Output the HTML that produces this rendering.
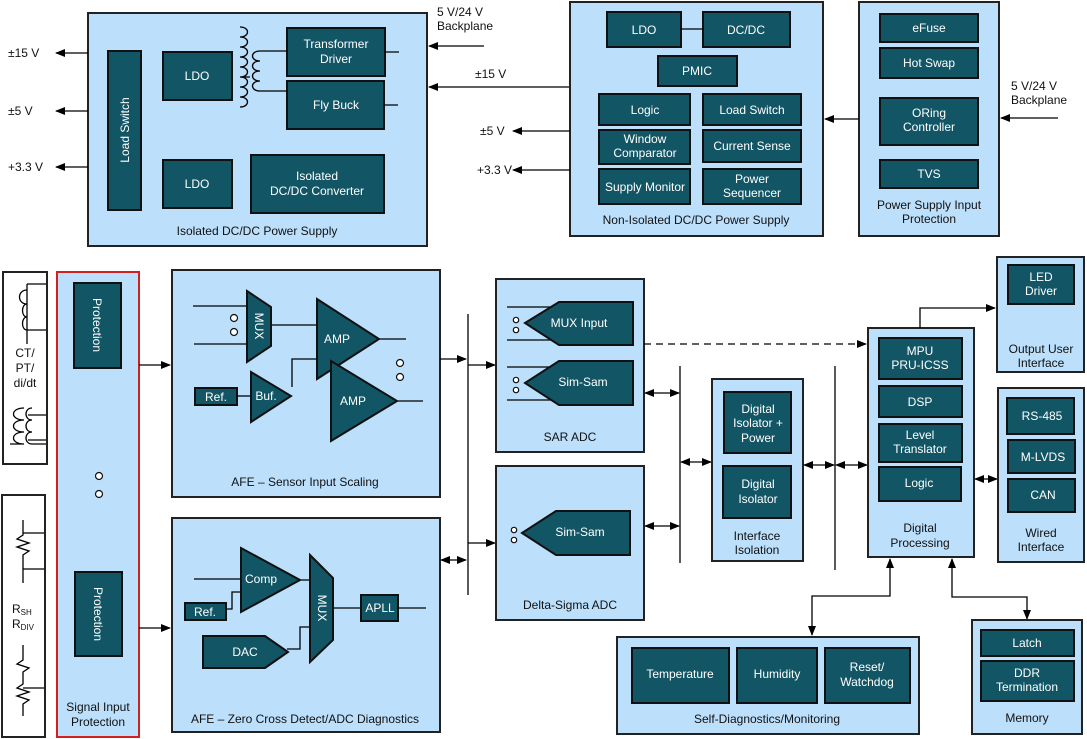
<!DOCTYPE html>
<html><head><meta charset="utf-8"><style>
body{margin:0;background:#fff}
svg{display:block;font-family:"Liberation Sans",sans-serif}
.L{fill:#bcdffb;stroke:#222;stroke-width:2}
.D{fill:#125565;stroke:#111;stroke-width:2}
.w{fill:#fff;font-size:12px;text-anchor:middle}
.k{fill:#111;font-size:12px;text-anchor:middle}
.kl{fill:#111;font-size:12px}
.ln{stroke:#000;stroke-width:1.3;fill:none}
.c{fill:#fff;stroke:#111;stroke-width:1.2}
</style></head><body>
<svg width="1087" height="739" viewBox="0 0 1087 739">
<defs>
<marker id="a" markerWidth="10" markerHeight="8" refX="9" refY="4" orient="auto" markerUnits="userSpaceOnUse"><path d="M0,0L10,4L0,8z" fill="#000"/></marker>
<marker id="b" markerWidth="10" markerHeight="8" refX="1" refY="4" orient="auto" markerUnits="userSpaceOnUse"><path d="M10,0L0,4L10,8z" fill="#000"/></marker>
</defs>

<!-- Isolated DC/DC -->
<rect class="L" x="88" y="13" width="339" height="233"/>
<rect class="D" x="108" y="51" width="33" height="159"/>
<text class="w" transform="translate(129,130) rotate(-90)">Load Switch</text>
<rect class="D" x="163" y="52" width="69" height="48"/><text class="w" x="197" y="80">LDO</text>
<rect class="D" x="163" y="160" width="69" height="48"/><text class="w" x="197" y="188">LDO</text>
<rect class="D" x="287" y="28" width="98" height="48"/><text class="w" x="336" y="48">Transformer</text><text class="w" x="336" y="63">Driver</text>
<rect class="D" x="287" y="81" width="97" height="48"/><text class="w" x="336" y="109">Fly Buck</text>
<rect class="D" x="251" y="155" width="133" height="58"/><text class="w" x="317" y="180">Isolated</text><text class="w" x="317" y="195">DC/DC Converter</text>
<path class="ln" d="M240,27c10,0 10,10 0,10c10,0 10,10 0,10c10,0 10,10 0,10c10,0 10,10 0,10c10,0 10,10 0,10c10,0 10,10 0,10c10,0 10,10 0,10c10,0 10,10 0,10M287,51h-27c-10,0 -10,10 0,10c-10,0 -10,10 0,10c-10,0 -10,10 0,10c-10,0 -10,10 0,10h27M242,77h8M385,52h14M384,105h14"/>
<text class="k" x="257" y="235">Isolated DC/DC Power Supply</text>
<line class="ln" x1="88" y1="53" x2="56" y2="53" marker-end="url(#a)"/><text class="kl" x="8" y="57">±15 V</text>
<line class="ln" x1="88" y1="111" x2="56" y2="111" marker-end="url(#a)"/><text class="kl" x="8" y="115">±5 V</text>
<line class="ln" x1="88" y1="167" x2="56" y2="167" marker-end="url(#a)"/><text class="kl" x="8" y="171">+3.3 V</text>
<text class="kl" x="437" y="16">5 V/24 V</text><text class="kl" x="437" y="30">Backplane</text>
<line class="ln" x1="484" y1="46" x2="429" y2="46" marker-end="url(#a)"/>
<line class="ln" x1="570" y1="87" x2="429" y2="87" marker-end="url(#a)"/><text class="kl" x="475" y="78">±15 V</text>

<!-- Non-isolated -->
<rect class="L" x="570" y="2" width="253" height="234"/>
<rect class="D" x="607" y="12" width="74" height="35"/><text class="w" x="644" y="34">LDO</text>
<rect class="D" x="703" y="12" width="87" height="35"/><text class="w" x="746" y="34">DC/DC</text>
<line class="ln" x1="681" y1="29" x2="703" y2="29"/>
<rect class="D" x="658" y="56" width="79" height="30"/><text class="w" x="697" y="75">PMIC</text>
<rect class="D" x="599" y="94" width="91" height="31"/><text class="w" x="645" y="114">Logic</text>
<rect class="D" x="703" y="94" width="98" height="31"/><text class="w" x="752" y="114">Load Switch</text>
<rect class="D" x="599" y="130" width="91" height="34"/><text class="w" x="645" y="143">Window</text><text class="w" x="645" y="157">Comparator</text>
<rect class="D" x="703" y="130" width="98" height="32"/><text class="w" x="752" y="150">Current Sense</text>
<rect class="D" x="599" y="169" width="91" height="35"/><text class="w" x="645" y="191">Supply Monitor</text>
<rect class="D" x="703" y="169" width="98" height="35"/><text class="w" x="752" y="183">Power</text><text class="w" x="752" y="197">Sequencer</text>
<text class="k" x="696" y="224">Non-Isolated DC/DC Power Supply</text>
<line class="ln" x1="570" y1="131" x2="513" y2="131" marker-end="url(#a)"/><text class="kl" x="480" y="135">±5 V</text>
<line class="ln" x1="570" y1="170" x2="513" y2="170" marker-end="url(#a)"/><text class="kl" x="477" y="174">+3.3 V</text>

<!-- PS input protection -->
<rect class="L" x="859" y="2" width="140" height="234"/>
<rect class="D" x="880" y="14" width="98" height="28"/><text class="w" x="929" y="32">eFuse</text>
<rect class="D" x="880" y="48" width="98" height="30"/><text class="w" x="929" y="67">Hot Swap</text>
<rect class="D" x="880" y="98" width="98" height="47"/><text class="w" x="929" y="117">ORing</text><text class="w" x="929" y="131">Controller</text>
<rect class="D" x="880" y="160" width="98" height="28"/><text class="w" x="929" y="178">TVS</text>
<text class="k" x="929" y="209">Power Supply Input</text><text class="k" x="929" y="223">Protection</text>
<line class="ln" x1="859" y1="119" x2="825" y2="119" marker-end="url(#a)"/>
<line class="ln" x1="1058" y1="118" x2="1001" y2="118" marker-end="url(#a)"/>
<text class="kl" x="1011" y="90">5 V/24 V</text><text class="kl" x="1011" y="104">Backplane</text>

<!-- CT box -->
<rect x="3" y="272" width="44" height="192" fill="#fff" stroke="#222" stroke-width="2"/>
<path class="ln" d="M27,284v60M27,284h19M27,330h19M27,290c-10,0 -10,14 0,14c-6,0 -6,13 0,13c-6,0 -6,13 0,13M28,415h18M28,440h18M24,408c-14,0 -14,12 0,12c-14,0 -14,12 0,12c-14,0 -14,12 0,12h-14M32,408c-8,0 -8,12 0,12c-8,0 -8,12 0,12c-8,0 -8,12 0,12h14"/>
<text class="k" x="25" y="357">CT/</text><text class="k" x="25" y="372">PT/</text><text class="k" x="25" y="387">di/dt</text>
<!-- Rsh box -->
<rect x="2" y="495" width="43" height="242" fill="#fff" stroke="#222" stroke-width="2"/>
<path class="ln" d="M23,520v15l-6,4l12,4l-12,4l12,4l-6,4v14v14M23,533h21M23,569h21M23,645v15l-6,4l12,4l-6,4v12l-6,4l12,4l-12,4l12,4l-6,4v12M23,688h21"/>
<text class="kl" x="12" y="613">R<tspan font-size="8" dy="2">SH</tspan></text>
<text class="kl" x="12" y="628">R<tspan font-size="8" dy="2">DIV</tspan></text>

<!-- Signal Input Protection -->
<rect x="57" y="272" width="82" height="465" fill="#bcdffb" stroke="#d02020" stroke-width="2"/>
<rect class="D" x="74" y="283" width="47" height="85"/><text class="w" transform="translate(93,325) rotate(90)" style="text-anchor:middle">Protection</text>
<rect class="D" x="75" y="572" width="47" height="84"/><text class="w" transform="translate(94,614) rotate(90)" style="text-anchor:middle">Protection</text>
<circle class="c" cx="99" cy="476" r="3.5"/><circle class="c" cx="99" cy="494" r="3.5"/>
<text class="k" x="98" y="711">Signal Input</text><text class="k" x="98" y="726">Protection</text>
<line class="ln" x1="139" y1="365" x2="170" y2="365" marker-end="url(#a)"/>
<line class="ln" x1="139" y1="628" x2="170" y2="628" marker-end="url(#a)"/>

<!-- AFE sensor -->
<rect class="L" x="172" y="270" width="268" height="227"/>
<path class="ln" d="M193,306h55M194,344h55M272,325h45M292,387v-28h25M379,339h27M397,401h26"/>
<polygon class="D" points="247,291 271,307 271,346 247,362"/>
<text class="w" transform="translate(255,326) rotate(90)" style="text-anchor:middle">MUX</text>
<circle class="c" cx="234" cy="318" r="3.5"/><circle class="c" cx="234" cy="332" r="3.5"/>
<polygon class="D" points="317,299 379,339 317,379"/><text class="w" x="337" y="343">AMP</text>
<polygon class="D" points="331,361 397,401 331,441"/><text class="w" x="353" y="405">AMP</text>
<rect class="D" x="195" y="388" width="42" height="17"/><text class="w" x="216" y="401">Ref.</text>
<line class="ln" x1="237" y1="396" x2="251" y2="396"/>
<polygon class="D" points="251,372 291,396 251,422"/><text class="w" x="266" y="400">Buf.</text>
<circle class="c" cx="400" cy="363" r="3.5"/><circle class="c" cx="400" cy="377" r="3.5"/>
<text class="k" x="305" y="486">AFE – Sensor Input Scaling</text>

<!-- AFE zero -->
<rect class="L" x="172" y="518" width="268" height="214"/>
<path class="ln" d="M194,579h47M226,609h6v-17h9M299,580h10M287,649h13v-22h9M334,608h28M398,608h28"/>
<polygon class="D" points="241,548 300,580 241,612"/><text class="w" x="261" y="583">Comp</text>
<rect class="D" x="185" y="603" width="41" height="17"/><text class="w" x="205" y="616">Ref.</text>
<polygon class="D" points="203,636 265,636 288,652 265,668 203,668"/><text class="w" x="245" y="656">DAC</text>
<polygon class="D" points="310,555 333,578 333,640 310,662"/>
<text class="w" transform="translate(318,608) rotate(90)" style="text-anchor:middle">MUX</text>
<rect class="D" x="361" y="595" width="37" height="26"/><text class="w" x="380" y="612">APLL</text>
<text class="k" x="305" y="723">AFE – Zero Cross Detect/ADC Diagnostics</text>

<!-- bus 1 -->
<line class="ln" x1="468" y1="314" x2="468" y2="595"/>
<line class="ln" x1="440" y1="359" x2="466" y2="359" marker-end="url(#a)"/>
<line class="ln" x1="468" y1="365" x2="495" y2="365" marker-end="url(#a)"/>
<line class="ln" x1="468" y1="543" x2="495" y2="543" marker-end="url(#a)"/>
<line class="ln" x1="441" y1="560" x2="466" y2="560" marker-start="url(#b)" marker-end="url(#a)"/>

<!-- SAR ADC -->
<rect class="L" x="496" y="279" width="148" height="173"/>
<path class="ln" d="M507,307h48M507,340h48M507,367h48M507,400h48M503,517h48M503,550h48"/>
<polygon class="D" points="525,323 559,302 633,302 633,345 559,345"/><text class="w" x="579" y="327">MUX Input</text>
<polygon class="D" points="525,383 559,361 633,361 633,405 559,405"/><text class="w" x="583" y="386">Sim-Sam</text>
<circle class="c" cx="516" cy="320" r="2.7"/><circle class="c" cx="516" cy="330" r="2.7"/>
<circle class="c" cx="516" cy="380" r="2.7"/><circle class="c" cx="516" cy="390" r="2.7"/>
<text class="k" x="570" y="441">SAR ADC</text>
<!-- Delta sigma -->
<rect class="L" x="496" y="466" width="148" height="154"/>
<polygon class="D" points="522,533 556,511 630,511 630,555 556,555"/><text class="w" x="580" y="536">Sim-Sam</text>
<circle class="c" cx="514" cy="530" r="2.7"/><circle class="c" cx="514" cy="540" r="2.7"/>
<text class="k" x="570" y="609">Delta-Sigma ADC</text>

<line x1="644" y1="344" x2="866" y2="344" stroke="#000" stroke-width="1.3" stroke-dasharray="7,5" marker-end="url(#a)"/>

<!-- bus 2 -->
<line class="ln" x1="680" y1="366" x2="680" y2="563"/>
<line class="ln" x1="645" y1="393" x2="679" y2="393" marker-start="url(#b)" marker-end="url(#a)"/>
<line class="ln" x1="645" y1="526" x2="679" y2="526" marker-start="url(#b)" marker-end="url(#a)"/>
<line class="ln" x1="681" y1="462" x2="711" y2="462" marker-start="url(#b)" marker-end="url(#a)"/>

<!-- Interface isolation -->
<rect class="L" x="712" y="379" width="91" height="182"/>
<rect class="D" x="724" y="392" width="67" height="61"/><text class="w" x="758" y="413">Digital</text><text class="w" x="758" y="427">Isolator +</text><text class="w" x="758" y="442">Power</text>
<rect class="D" x="723" y="466" width="68" height="52"/><text class="w" x="758" y="488">Digital</text><text class="w" x="758" y="503">Isolator</text>
<text class="k" x="757" y="540">Interface</text><text class="k" x="757" y="554">Isolation</text>

<line class="ln" x1="835" y1="366" x2="835" y2="570"/>
<line class="ln" x1="804" y1="465" x2="834" y2="465" marker-start="url(#b)" marker-end="url(#a)"/>
<line class="ln" x1="836" y1="465" x2="867" y2="465" marker-start="url(#b)" marker-end="url(#a)"/>

<!-- Digital processing -->
<rect class="L" x="868" y="328" width="106" height="229"/>
<rect class="D" x="879" y="338" width="83" height="41"/><text class="w" x="920" y="355">MPU</text><text class="w" x="920" y="369">PRU-ICSS</text>
<rect class="D" x="879" y="386" width="83" height="31"/><text class="w" x="920" y="406">DSP</text>
<rect class="D" x="879" y="424" width="83" height="38"/><text class="w" x="920" y="439">Level</text><text class="w" x="920" y="453">Translator</text>
<rect class="D" x="879" y="467" width="82" height="34"/><text class="w" x="919" y="487">Logic</text>
<text class="k" x="920" y="532">Digital</text><text class="k" x="920" y="547">Processing</text>
<polyline class="ln" points="920,328 920,308 995,308" marker-end="url(#a)"/>
<line class="ln" x1="975" y1="479" x2="997" y2="479" marker-start="url(#b)" marker-end="url(#a)"/>

<!-- Output UI -->
<rect class="L" x="997" y="257" width="87" height="115"/>
<rect class="D" x="1008" y="265" width="66" height="39"/><text class="w" x="1041" y="281">LED</text><text class="w" x="1041" y="295">Driver</text>
<text class="k" x="1041" y="353">Output  User</text><text class="k" x="1041" y="367">Interface</text>
<!-- Wired -->
<rect class="L" x="998" y="388" width="86" height="174"/>
<rect class="D" x="1007" y="398" width="67" height="36"/><text class="w" x="1042" y="420">RS-485</text>
<rect class="D" x="1008" y="440" width="67" height="33"/><text class="w" x="1043" y="461">M-LVDS</text>
<rect class="D" x="1008" y="479" width="67" height="33"/><text class="w" x="1043" y="499">CAN</text>
<text class="k" x="1041" y="537">Wired</text><text class="k" x="1041" y="551">Interface</text>

<!-- connectors bottom -->
<polyline class="ln" points="812,635 812,596 890,596 890,559" marker-start="url(#b)" marker-end="url(#a)"/>
<polyline class="ln" points="952,559 952,597 1027,597 1027,619" marker-start="url(#b)" marker-end="url(#a)"/>

<!-- Self diag -->
<rect class="L" x="617" y="637" width="302" height="97"/>
<rect class="D" x="632" y="648" width="97" height="55"/><text class="w" x="680" y="678">Temperature</text>
<rect class="D" x="737" y="648" width="80" height="55"/><text class="w" x="777" y="678">Humidity</text>
<rect class="D" x="825" y="648" width="85" height="55"/><text class="w" x="867" y="671">Reset/</text><text class="w" x="867" y="686">Watchdog</text>
<text class="k" x="767" y="723">Self-Diagnostics/Monitoring</text>
<!-- Memory -->
<rect class="L" x="972" y="620" width="110" height="114"/>
<rect class="D" x="981" y="630" width="93" height="26"/><text class="w" x="1027" y="647">Latch</text>
<rect class="D" x="981" y="661" width="93" height="40"/><text class="w" x="1027" y="677">DDR</text><text class="w" x="1027" y="691">Termination</text>
<text class="k" x="1027" y="722">Memory</text>
</svg>
</body></html>
